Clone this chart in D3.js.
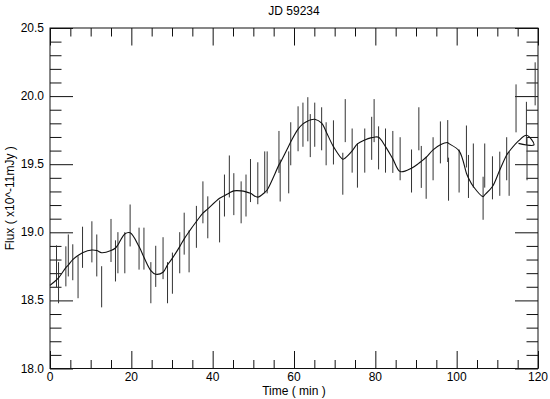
<!DOCTYPE html>
<html>
<head>
<meta charset="utf-8">
<script src="https://cdn.jsdelivr.net/npm/d3@7"></script>
<style>
  body { margin: 0; background: #fff; }
  text { font-family: "Liberation Sans", Arial, sans-serif; }
</style>
</head>
<body>
<svg id="svg1"></svg>
<script>
// observed points (min, flux, 1-sigma error)
const time = [1.6, 2.1, 3.9, 4.5, 5.6, 6.9, 8.0, 10.3, 11.5, 12.7, 15.0, 16.1, 16.7, 18.4, 19.7,
  21.9, 23.1, 24.8, 26.0, 27.8, 28.9, 30.1, 31.9, 33.0, 34.2, 36.0, 37.6, 38.8, 41.7, 42.9,
  44.1, 45.2, 47.0, 48.2, 49.3, 51.1, 52.8, 53.4, 56.3, 56.6, 58.7, 59.2, 61.0, 62.2, 63.4,
  64.0, 65.1, 66.8, 67.9, 69.7, 72.0, 72.6, 74.3, 75.6, 77.4, 79.1, 79.7, 80.8, 82.5, 84.3,
  86.1, 88.9, 90.7, 91.3, 92.5, 94.2, 96.0, 97.8, 98.0, 100.6, 102.4, 102.9, 104.1, 106.5, 106.9,
  108.8, 110.6, 112.3, 112.9, 114.6, 117.15, 117.3, 119.3];
const flux = [18.75, 18.63, 18.75, 18.83, 18.78, 18.67, 18.89, 18.93, 18.83, 18.60, 18.94, 18.79, 18.85, 18.85, 19.05,
  18.88, 18.88, 18.63, 18.75, 18.81, 18.63, 18.70, 18.85, 18.99, 18.86, 19.04, 19.22, 19.11, 19.08, 19.27,
  19.41, 19.28, 19.22, 19.27, 19.38, 19.36, 19.44, 19.44, 19.59, 19.38, 19.44, 19.65, 19.76, 19.79, 19.83,
  19.71, 19.79, 19.76, 19.65, 19.66, 19.43, 19.82, 19.60, 19.49, 19.60, 19.69, 19.82, 19.62, 19.60, 19.59,
  19.54, 19.45, 19.76, 19.48, 19.40, 19.54, 19.66, 19.67, 19.39, 19.45, 19.63, 19.41, 19.49, 19.25, 19.49,
  19.40, 19.43, 19.54, 19.43, 19.91, 19.80, 19.54, 20.09];
const fluxErr = [0.154, 0.151, 0.147, 0.154, 0.132, 0.154, 0.151, 0.151, 0.154, 0.151, 0.158, 0.151, 0.151, 0.151, 0.154,
  0.154, 0.154, 0.151, 0.151, 0.154, 0.151, 0.151, 0.151, 0.154, 0.154, 0.154, 0.154, 0.154, 0.154, 0.154,
  0.154, 0.154, 0.154, 0.154, 0.158, 0.154, 0.154, 0.154, 0.154, 0.154, 0.154, 0.158, 0.165, 0.162, 0.162,
  0.158, 0.162, 0.158, 0.158, 0.162, 0.154, 0.158, 0.162, 0.162, 0.162, 0.158, 0.158, 0.158, 0.162, 0.154,
  0.158, 0.158, 0.158, 0.154, 0.154, 0.158, 0.154, 0.154, 0.158, 0.158, 0.154, 0.158, 0.162, 0.158, 0.162,
  0.158, 0.162, 0.158, 0.162, 0.176, 0.158, 0.158, 0.158];

// smoothed light curve
const smoothTime = [0, 1.6, 2.1, 3.9, 4.5, 5.6, 6.9, 8.0, 10.3, 11.5, 12.7, 15.0, 16.1, 16.7, 18.4, 19.7,
  21.9, 23.1, 24.8, 26.0, 27.8, 28.9, 30.1, 31.9, 33.0, 34.2, 36.0, 37.6, 38.8, 41.7, 42.9,
  44.1, 45.2, 47.0, 48.2, 49.3, 51.1, 52.8, 53.4, 56.3, 56.6, 58.7, 59.2, 61.0, 62.2, 63.4,
  64.0, 65.1, 66.8, 67.9, 69.7, 72.0, 72.6, 74.3, 75.6, 77.4, 79.1, 79.7, 80.8, 82.5, 84.3,
  86.1, 88.9, 90.7, 91.3, 92.5, 94.2, 96.0, 97.8, 98.0, 100.6, 102.4, 102.9, 104.1, 106.5, 106.9,
  108.8, 110.6, 112.3, 112.9, 115.2, 117.2, 119.0, 115.2];
const smoothFlux = [18.61, 18.65, 18.665, 18.74, 18.76, 18.80, 18.83, 18.85, 18.87, 18.866, 18.85, 18.866, 18.885, 18.907, 18.988, 18.996,
  18.895, 18.817, 18.719, 18.692, 18.707, 18.761, 18.81, 18.895, 18.952, 19.005, 19.079, 19.14, 19.172, 19.25, 19.269,
  19.289, 19.304, 19.304, 19.297, 19.286, 19.258, 19.293, 19.311, 19.495, 19.51, 19.634, 19.664, 19.757, 19.796, 19.818,
  19.825, 19.83, 19.801, 19.739, 19.629, 19.537, 19.546, 19.598, 19.649, 19.678, 19.695, 19.698, 19.698, 19.629, 19.539,
  19.446, 19.471, 19.507, 19.521, 19.551, 19.605, 19.642, 19.659, 19.653, 19.598, 19.434, 19.399, 19.336, 19.262, 19.275,
  19.336, 19.458, 19.568, 19.593, 19.671, 19.712, 19.642, 19.653];

const margin = {top: 28, right: 12, bottom: 30.5, left: 50};
const width = 550 - margin.left - margin.right;
const height = 399 - margin.top - margin.bottom;

const svg = d3.select('#svg1')
    .attr('width', 550)
    .attr('height', 399)
    .append('g')
    .attr('transform', 'translate(' + margin.left + ',' + margin.top + ')');

const x = d3.scaleLinear().domain([0, 120]).range([0, width]);
const y = d3.scaleLinear().domain([18, 20.5]).range([height, 0]);

// ticks on all four sides, pointing inward
const xMajor = d3.range(0, 121, 20);
const xMinor = d3.range(0, 121, 5).filter(d => d % 20 != 0);
const yMajor = d3.range(0, 6).map(i => 18 + i * 0.5);
const yMinor = d3.range(0, 26).map(i => 18 + i * 0.1).filter((d, i) => i % 5 != 0);

function tickAxis(axisFn, scale, vals, len) {
  return axisFn(scale).tickValues(vals).tickSize(len).tickFormat('');
}

svg.append('g').attr('transform', 'translate(0,' + height + ')')
    .call(tickAxis(d3.axisTop, x, xMajor, 17.5));
svg.append('g').attr('transform', 'translate(0,' + height + ')')
    .call(tickAxis(d3.axisTop, x, xMinor, 8.5));
svg.append('g').call(tickAxis(d3.axisBottom, x, xMajor, 17.5));
svg.append('g').call(tickAxis(d3.axisBottom, x, xMinor, 8.5));

svg.append('g').call(tickAxis(d3.axisRight, y, yMajor, 23));
svg.append('g').call(tickAxis(d3.axisRight, y, yMinor, 11.5));
svg.append('g').attr('transform', 'translate(' + width + ',0)')
    .call(tickAxis(d3.axisLeft, y, yMajor, 23));
svg.append('g').attr('transform', 'translate(' + width + ',0)')
    .call(tickAxis(d3.axisLeft, y, yMinor, 11.5));

svg.selectAll('.domain').remove();
svg.selectAll('.tick line').attr('stroke', '#111').attr('stroke-width', 1);

// frame
svg.append('rect')
    .attr('width', width)
    .attr('height', height)
    .attr('fill', 'none')
    .attr('stroke', '#111')
    .attr('stroke-width', 1);

// tick labels
svg.selectAll('.xlab')
    .data(xMajor)
    .enter()
    .append('text')
    .attr('x', d => x(d))
    .attr('y', height + 12.5)
    .attr('text-anchor', 'middle')
    .attr('font-size', '12px')
    .text(d => d);

svg.selectAll('.ylab')
    .data(yMajor)
    .enter()
    .append('text')
    .attr('x', -6)
    .attr('y', d => y(d) + 4)
    .attr('text-anchor', 'end')
    .attr('font-size', '12px')
    .text(d => d.toFixed(1));

// error bars
const pts = time.map((t, i) => ({t: t, f: flux[i], e: fluxErr[i]}));
svg.selectAll('.err')
    .data(pts)
    .enter()
    .append('line')
    .attr('x1', d => x(d.t))
    .attr('x2', d => x(d.t))
    .attr('y1', d => y(d.f + d.e))
    .attr('y2', d => y(d.f - d.e))
    .attr('stroke', '#333')
    .attr('stroke-width', 1);

// smoothed curve
const line = d3.line()
    .x(d => x(d[0]))
    .y(d => y(d[1]))
    .curve(d3.curveCatmullRom.alpha(0.5));
svg.append('path')
    .datum(smoothTime.map((t, i) => [t, smoothFlux[i]]))
    .attr('d', line)
    .attr('fill', 'none')
    .attr('stroke', '#111')
    .attr('stroke-width', 1.1);

// titles
svg.append('text')
    .attr('x', width / 2)
    .attr('y', -13)
    .attr('text-anchor', 'middle')
    .attr('font-size', '12px')
    .text('JD 59234');

svg.append('text')
    .attr('x', width / 2)
    .attr('y', height + 26)
    .attr('text-anchor', 'middle')
    .attr('font-size', '12px')
    .text('Time ( min )');

svg.append('text')
    .attr('transform', 'translate(-36,' + (height / 2) + ')rotate(-90)')
    .attr('text-anchor', 'middle')
    .attr('font-size', '12px')
    .text('Flux ( x10^-11mJy )');
</script>
</body>
</html>
